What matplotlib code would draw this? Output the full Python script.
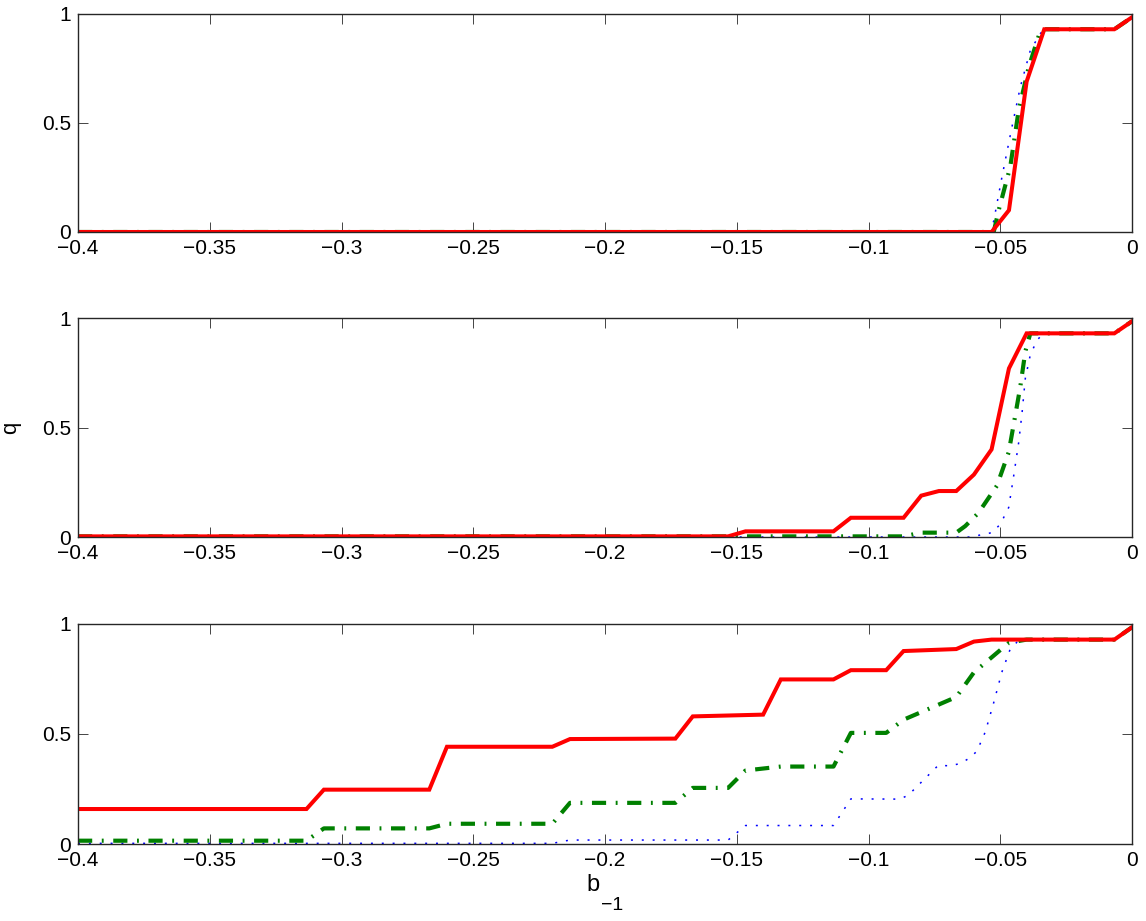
import matplotlib
matplotlib.use("Agg")
import matplotlib.pyplot as plt

plt.rcParams["font.family"] = ["Liberation Sans", "DejaVu Sans"]

# -------------------------
# q(b_-1) curves, one set per panel (breakpoints of the piecewise-linear curves)
# -------------------------
# top panel
red_x1 = [-0.4, -0.0533, -0.0467, -0.04, -0.0333, -0.0067, 0.0]
red_y1 = [0.0, 0.0, 0.10, 0.69, 0.93, 0.93, 0.985]
green_x1 = [-0.4, -0.0525, -0.0506, -0.0462, -0.043, -0.0392, -0.0354, -0.0333, -0.0067, 0.0]
green_y1 = [0.0, 0.0, 0.10, 0.30, 0.56, 0.757, 0.90, 0.93, 0.93, 0.985]
blue_x1 = [-0.4, -0.054, -0.0525, -0.0494, -0.0456, -0.0424, -0.0386, -0.0348, -0.0333, -0.0067, 0.0]
blue_y1 = [0.0, 0.0, 0.05, 0.25, 0.48, 0.665, 0.833, 0.91, 0.93, 0.93, 0.985]

# middle panel
red_x2 = [-0.4, -0.1533, -0.1467, -0.1133, -0.1067, -0.0867, -0.08, -0.0733,
          -0.0667, -0.06, -0.0533, -0.0467, -0.04, -0.0067, 0.0]
red_y2 = [0.003, 0.003, 0.026, 0.026, 0.088, 0.088, 0.189, 0.21,
          0.21, 0.285, 0.40, 0.77, 0.93, 0.93, 0.985]
green_x2 = [-0.4, -0.0867, -0.08, -0.0667, -0.0633, -0.0583, -0.0513, -0.0468,
            -0.0443, -0.0424, -0.0405, -0.0386, -0.0067, 0.0]
green_y2 = [0.003, 0.003, 0.02, 0.02, 0.05, 0.11, 0.234, 0.387,
            0.556, 0.686, 0.847, 0.93, 0.93, 0.985]
blue_x2 = [-0.4, -0.0614, -0.0532, -0.05, -0.0468, -0.0449, -0.043, -0.0417,
           -0.0405, -0.0386, -0.036, -0.0335, -0.0067, 0.0]
blue_y2 = [0.0, 0.0, 0.02, 0.058, 0.135, 0.28, 0.433, 0.571,
           0.724, 0.832, 0.90, 0.93, 0.93, 0.985]

# bottom panel
red_x3 = [-0.4, -0.3133, -0.3067, -0.2667, -0.26, -0.22, -0.2133, -0.1733, -0.1667,
          -0.14, -0.1333, -0.1133, -0.1067, -0.0933, -0.0867, -0.0667, -0.06, -0.0533,
          -0.0067, 0.0]
red_y3 = [0.159, 0.159, 0.247, 0.247, 0.442, 0.442, 0.477, 0.479, 0.58,
          0.588, 0.748, 0.748, 0.79, 0.79, 0.877, 0.886, 0.92, 0.929,
          0.929, 0.985]
green_x3 = [-0.4, -0.3133, -0.3067, -0.2667, -0.26, -0.22, -0.2133, -0.1733, -0.1667,
            -0.1533, -0.1467, -0.1333, -0.1133, -0.1067, -0.0933, -0.0867, -0.0667,
            -0.06, -0.0467, -0.04, -0.0067, 0.0]
green_y3 = [0.015, 0.015, 0.071, 0.071, 0.092, 0.092, 0.187, 0.187, 0.255,
            0.255, 0.334, 0.352, 0.352, 0.505, 0.505, 0.565, 0.668,
            0.78, 0.915, 0.929, 0.929, 0.985]
blue_x3 = [-0.4, -0.22, -0.2133, -0.1533, -0.1467, -0.1133, -0.1067, -0.0881, -0.0849,
           -0.0735, -0.069, -0.0652, -0.062, -0.0589, -0.0557, -0.0525, -0.0494,
           -0.0462, -0.0437, -0.04, -0.0067, 0.0]
blue_y3 = [0.003, 0.003, 0.018, 0.018, 0.084, 0.084, 0.205, 0.204, 0.222,
           0.358, 0.355, 0.366, 0.388, 0.421, 0.509, 0.642, 0.781,
           0.887, 0.917, 0.929, 0.929, 0.985]

panels = [
    (blue_x1, blue_y1, green_x1, green_y1, red_x1, red_y1),
    (blue_x2, blue_y2, green_x2, green_y2, red_x2, red_y2),
    (blue_x3, blue_y3, green_x3, green_y3, red_x3, red_y3),
]

x_ticks = [-0.4, -0.35, -0.3, -0.25, -0.2, -0.15, -0.1, -0.05, 0]
x_ticklabels = ["\u22120.4", "\u22120.35", "\u22120.3", "\u22120.25", "\u22120.2",
                "\u22120.15", "\u22120.1", "\u22120.05", "0"]
y_ticks = [0, 0.5, 1]
y_ticklabels = ["0", "0.5", "1"]

fig = plt.figure(figsize=(11.46, 9.21), dpi=100)

# axes boxes: left, bottom, width, height (figure fractions)
boxes = [
    [0.0681, 0.7481, 0.9197, 0.2367],
    [0.0681, 0.4169, 0.9197, 0.2378],
    [0.0681, 0.0836, 0.9197, 0.2389],
]

axes = []
for box, (bx, by, gx, gy, rx, ry) in zip(boxes, panels):
    ax = fig.add_axes(box)
    ax.plot(bx, by, color="blue", linewidth=1.1, linestyle=(0, (1.3, 5.8)))
    ax.plot(gx, gy, color="#008000", linewidth=3.0, linestyle=(0, (3.4, 2.3, 0.45, 2.3)))
    ax.plot(rx, ry, color="red", linewidth=2.9, solid_joinstyle="miter")
    ax.set_xlim(-0.4, 0)
    ax.set_ylim(0, 1)
    ax.set_xticks(x_ticks)
    ax.set_xticklabels(x_ticklabels)
    ax.set_yticks(y_ticks)
    ax.set_yticklabels(y_ticklabels)
    ax.tick_params(direction="in", length=7, width=0.6, top=True, right=True,
                   labelsize=15, pad=5, colors="#262626", labelcolor="black")
    for s in ax.spines.values():
        s.set_linewidth(1.0)
        s.set_color("#262626")
    axes.append(ax)

axes[1].set_ylabel("q", fontsize=16, labelpad=15)

# x label b_{-1}: base letter plus lowered subscript
fig.text(593 / 1146, 1 - 885 / 921, "b", ha="center", va="center", fontsize=17)
fig.text(601 / 1146, 1 - 905 / 921, "\u22121", ha="left", va="center", fontsize=14)

fig.savefig("out.png", dpi=100)
